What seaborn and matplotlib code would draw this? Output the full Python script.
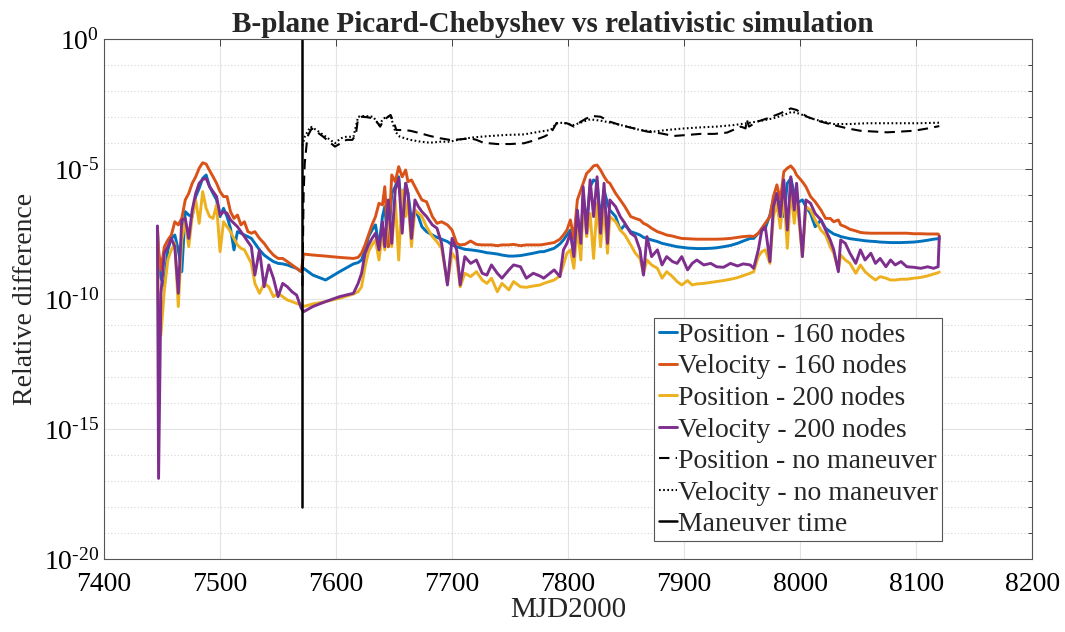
import numpy as np
import pandas as pd
import seaborn as sns
import matplotlib
matplotlib.use('Agg')
import matplotlib.pyplot as plt
from matplotlib.ticker import FixedLocator, NullFormatter

# --- data -----------------------------------------------------------------
# sample days (MJD2000), shared by the four Picard-Chebyshev runs
days = [
    7446, 7447, 7449, 7452, 7455, 7458, 7461, 7464, 7467, 7470,
    7473, 7476, 7479, 7482, 7485, 7488, 7491, 7494, 7497, 7500,
    7503, 7506, 7509, 7512, 7515, 7518, 7521, 7524, 7527, 7530,
    7534, 7538, 7542, 7546, 7550, 7554, 7558, 7562, 7566, 7570,
    # after the maneuver
    7572, 7580, 7591, 7603, 7615, 7619, 7622, 7625, 7628, 7631,
    7634, 7637, 7640, 7642, 7645, 7648, 7651, 7654, 7657, 7660,
    7662, 7665, 7668, 7671, 7674, 7678, 7683, 7687, 7691, 7696,
    7700, 7704, 7707, 7711, 7716, 7721, 7726, 7730, 7734, 7739,
    7743, 7749, 7753, 7759, 7764, 7770, 7776,
    7779, 7788, 7793, 7796, 7799, 7802, 7805, 7808, 7811, 7813,
    7816, 7819, 7822, 7825, 7828, 7831, 7834, 7836, 7841, 7845,
    7849, 7854, 7858, 7862, 7865, 7868, 7872, 7877, 7881, 7885,
    7890, 7894, 7898, 7903, 7907, 7911, 7917, 7923, 7928, 7934,
    7940, 7946, 7951, 7957,
    7960, 7964, 7967, 7970, 7974, 7977, 7980, 7983, 7986, 7989,
    7992, 7995, 7997, 8002, 8005, 8009, 8013, 8018, 8022, 8026,
    8029, 8033, 8035, 8039, 8043, 8048, 8052, 8056, 8061, 8065,
    8069, 8074, 8078, 8082, 8087, 8092, 8098, 8104, 8110, 8115,
    8119, 8120,
]

# log10 of relative difference
pos160_log = [
    -7.22, -8.50, -9.20, -9.50, -8.11, -7.67, -7.54, -8.11, -8.95, -6.64,
    -6.77, -6.83, -6.06, -5.74, -5.36, -5.23, -5.68, -5.94, -6.19, -6.83,
    -6.51, -6.83, -7.28, -8.11, -7.41, -7.47, -7.54, -7.60, -7.67, -7.86,
    -8.11, -8.31, -8.44, -8.56, -8.63, -8.65, -8.69, -8.76, -8.82, -8.95,
    -8.82, -9.08, -9.27, -8.95, -8.65, -8.60, -8.50, -8.11, -7.60, -7.35,
    -7.15, -7.99, -6.83, -6.45, -7.99, -5.94, -5.68, -5.30, -6.83, -5.55,
    -5.94, -6.96, -6.58, -6.83, -7.22, -7.41, -7.54, -7.63, -7.70, -7.79,
    -7.92, -7.99, -8.03, -8.09, -8.11, -8.14, -8.18, -8.22, -8.24, -8.27,
    -8.31, -8.35, -8.35, -8.33, -8.29, -8.24, -8.18,
    -8.18, -8.05, -7.88, -7.73, -7.54, -7.35, -8.24, -6.96, -8.11, -6.06,
    -7.09, -5.68, -5.42, -5.49, -6.96, -5.81, -6.32, -6.58, -6.83, -7.35,
    -7.15, -7.41, -7.47, -7.54, -7.63, -7.67, -7.73, -7.79, -7.86, -7.90,
    -7.95, -7.99, -8.01, -8.04, -8.05, -8.06, -8.06, -8.05, -8.03, -7.99,
    -7.94, -7.86, -7.77, -7.67,
    -7.67, -7.47, -7.37, -7.28, -6.77, -6.19, -6.58, -5.94, -6.83, -5.55,
    -5.36, -5.94, -6.32, -6.19, -6.45, -6.71, -7.22, -6.96, -7.28, -7.41,
    -7.50, -7.56, -7.60, -7.64, -7.68, -7.71, -7.73, -7.76, -7.78, -7.79,
    -7.81, -7.82, -7.83, -7.83, -7.83, -7.82, -7.81, -7.78, -7.74, -7.70,
    -7.68, -7.68,
]
vel160_log = [
    -7.22, -8.11, -8.88, -7.99, -7.73, -7.54, -7.03, -7.15, -6.90, -6.19,
    -5.94, -5.55, -5.30, -4.97, -4.76, -4.81, -5.06, -5.30, -5.55, -5.87,
    -6.06, -6.06, -6.64, -6.90, -6.77, -7.15, -7.03, -7.41, -7.47, -7.41,
    -7.67, -7.86, -8.11, -8.31, -8.44, -8.44, -8.56, -8.69, -8.82, -8.95,
    -8.27, -8.31, -8.35, -8.40, -8.44, -8.40, -8.24, -7.92, -7.54, -7.15,
    -6.83, -6.32, -6.38, -5.68, -7.99, -5.23, -5.49, -4.91, -5.30, -5.04,
    -5.49, -5.42, -5.68, -5.94, -6.19, -6.26, -6.83, -7.09, -7.03, -7.15,
    -7.35, -7.86, -7.92, -7.90, -7.77, -7.90, -7.92, -7.92, -7.92, -7.95,
    -7.92, -7.92, -7.90, -7.95, -7.92, -7.92, -7.92,
    -7.90, -7.83, -7.70, -7.54, -7.35, -6.96, -7.67, -6.19, -5.81, -5.55,
    -5.17, -5.04, -4.88, -4.85, -5.04, -5.29, -5.49, -5.55, -5.94, -6.19,
    -6.45, -6.83, -6.90, -6.96, -7.09, -7.15, -7.28, -7.41, -7.47, -7.54,
    -7.58, -7.63, -7.67, -7.68, -7.69, -7.70, -7.70, -7.70, -7.70, -7.69,
    -7.67, -7.63, -7.60, -7.58,
    -7.60, -7.47, -7.28, -7.09, -6.83, -6.06, -5.61, -6.19, -5.10, -4.97,
    -4.88, -5.04, -5.23, -5.49, -5.68, -6.06, -6.26, -6.58, -6.90, -6.90,
    -7.03, -6.96, -7.15, -7.22, -7.32, -7.38, -7.44, -7.46, -7.47, -7.47,
    -7.47, -7.47, -7.47, -7.47, -7.47, -7.47, -7.49, -7.49, -7.50, -7.50,
    -7.50, -7.58,
]
pos200_log = [
    -7.50, -11.00, -11.40, -9.65, -8.50, -8.11, -7.86, -10.29, -7.73, -7.03,
    -7.99, -6.83, -6.19, -7.09, -5.87, -6.51, -6.83, -6.90, -6.38, -8.18,
    -7.03, -7.22, -7.41, -7.67, -7.92, -8.05, -8.11, -8.37, -8.63, -9.40,
    -9.78, -9.40, -9.53, -9.91, -9.78, -9.91, -10.04, -10.10, -10.17, -10.23,
    -10.29, -10.19, -10.10, -9.97, -9.81, -9.72, -9.53, -8.76, -8.18, -7.92,
    -7.73, -8.50, -7.47, -8.11, -6.83, -7.99, -6.19, -8.50, -5.81, -6.83,
    -6.19, -7.99, -6.58, -6.70, -6.83, -7.22, -7.60, -7.80, -8.05, -9.40,
    -8.24, -8.50, -9.53, -9.01, -9.14, -8.95, -9.27, -9.40, -9.20, -9.72,
    -9.40, -9.65, -9.33, -9.53, -9.55, -9.50, -9.46,
    -9.40, -9.27, -9.11, -8.69, -8.24, -8.11, -8.82, -7.22, -8.50, -6.19,
    -7.60, -6.71, -8.44, -6.32, -7.99, -6.45, -8.24, -6.83, -7.03, -7.35,
    -7.54, -7.92, -8.24, -8.44, -9.01, -8.50, -8.69, -8.82, -9.20, -8.95,
    -9.14, -9.33, -9.46, -9.29, -9.46, -9.42, -9.40, -9.36, -9.33, -9.29,
    -9.24, -9.18, -9.10, -9.01,
    -8.95, -8.37, -8.18, -8.11, -8.63, -6.83, -6.32, -7.28, -5.94, -8.05,
    -5.81, -7.09, -6.06, -8.37, -6.45, -6.58, -6.96, -7.35, -7.54, -7.99,
    -8.24, -8.88, -8.31, -8.50, -8.63, -9.01, -8.69, -8.95, -9.14, -9.27,
    -9.14, -9.20, -9.27, -9.27, -9.24, -9.24, -9.20, -9.17, -9.11, -9.04,
    -8.99, -8.96,
]
vel200_log = [
    -7.19, -16.90, -9.80, -8.24, -7.99, -7.67, -7.99, -9.78, -6.96, -6.90,
    -7.67, -6.58, -5.94, -5.55, -5.40, -5.36, -5.68, -5.87, -6.06, -6.77,
    -6.64, -6.70, -6.96, -7.09, -7.22, -7.41, -7.60, -7.80, -7.99, -9.08,
    -8.11, -9.53, -8.69, -9.20, -9.91, -9.40, -9.53, -9.72, -9.85, -10.36,
    -10.49, -10.29, -10.10, -9.91, -9.78, -9.40, -9.01, -8.24, -7.92, -7.67,
    -7.47, -8.11, -7.03, -7.99, -6.19, -7.86, -5.81, -5.36, -7.47, -5.55,
    -5.94, -7.67, -6.19, -6.45, -6.64, -6.83, -7.15, -7.28, -7.86, -9.46,
    -7.67, -8.11, -9.46, -8.37, -8.63, -8.50, -9.01, -9.08, -8.69, -9.01,
    -9.20, -8.88, -8.69, -8.76, -9.20, -9.01, -9.12,
    -9.20, -8.88, -9.14, -8.11, -7.86, -7.47, -8.37, -6.58, -7.86, -5.68,
    -7.47, -5.42, -6.83, -5.30, -7.47, -5.55, -7.86, -6.19, -6.45, -6.83,
    -7.09, -7.47, -7.60, -8.11, -9.08, -7.60, -8.37, -8.11, -8.69, -8.37,
    -8.56, -8.63, -8.37, -8.88, -8.63, -8.50, -8.69, -8.63, -8.76, -8.78,
    -8.63, -8.73, -8.65, -8.69,
    -8.82, -8.11, -7.35, -7.22, -8.56, -6.45, -5.94, -6.83, -5.42, -7.35,
    -5.30, -6.58, -5.55, -8.37, -6.19, -6.32, -6.71, -6.96, -7.35, -7.73,
    -8.11, -8.95, -7.73, -7.86, -8.24, -8.63, -8.11, -8.50, -8.24, -8.63,
    -8.44, -8.76, -8.50, -8.69, -8.56, -8.76, -8.78, -8.82, -8.76, -8.82,
    -8.76, -7.60,
]

# runs without the maneuver
nomnv_pos_days = [
    7571, 7572, 7573, 7575, 7576, 7579, 7583, 7589, 7594, 7599,
    7604, 7609, 7614, 7617, 7619, 7622, 7627, 7632, 7635, 7638,
    7641, 7647, 7650, 7652, 7658, 7664, 7673, 7681, 7690, 7698,
    7707, 7716, 7721, 7727, 7739, 7750, 7762, 7770, 7779, 7785,
    7790, 7799, 7805, 7811, 7816, 7821, 7828, 7836, 7845, 7857,
    7868, 7880, 7891, 7903, 7914, 7926, 7937, 7949, 7953, 7954,
    7956, 7963, 7972, 7983, 7992, 7997, 8006, 8018, 8029, 8041,
    8052, 8064, 8075, 8087, 8098, 8110, 8120,
]
nomnv_pos_log = [
    -9.50, -6.00, -4.78, -3.88, -3.69, -3.44, -3.56, -3.76, -3.95, -4.14,
    -4.01, -3.88, -3.88, -3.69, -3.05, -2.99, -3.01, -3.05, -3.18, -3.37,
    -3.12, -2.92, -3.24, -3.50, -3.50, -3.53, -3.63, -3.73, -3.82, -3.88,
    -3.86, -3.82, -3.88, -3.99, -4.04, -4.04, -4.01, -3.91, -3.76, -3.63,
    -3.24, -3.24, -3.37, -3.18, -3.05, -2.96, -2.99, -3.18, -3.31, -3.44,
    -3.56, -3.63, -3.73, -3.69, -3.65, -3.65, -3.60, -3.37, -3.44, -3.09,
    -3.37, -3.18, -3.05, -2.86, -2.67, -2.73, -2.99, -3.18, -3.31, -3.44,
    -3.53, -3.56, -3.59, -3.56, -3.53, -3.44, -3.35,
]
nomnv_vel_days = [
    7571, 7573, 7578, 7583, 7589, 7595, 7599, 7604, 7609, 7615,
    7619, 7624, 7632, 7637, 7641, 7647, 7651, 7655, 7664, 7673,
    7681, 7690, 7698, 7707, 7719, 7733, 7747, 7762, 7776, 7785,
    7790, 7796, 7805, 7813, 7819, 7828, 7839, 7851, 7862, 7874,
    7885, 7900, 7914, 7928, 7943, 7957, 7966, 7977, 7986, 7993,
    8000, 8009, 8020, 8029, 8043, 8058, 8072, 8087, 8101, 8120,
]
nomnv_vel_log = [
    -4.10, -3.76, -3.37, -3.50, -3.69, -3.88, -4.01, -3.82, -3.76, -3.76,
    -2.99, -2.96, -2.99, -3.31, -3.05, -2.96, -3.56, -3.76, -3.88, -3.95,
    -3.99, -3.95, -3.95, -3.86, -3.78, -3.73, -3.69, -3.67, -3.56, -3.50,
    -3.24, -3.22, -3.31, -3.18, -3.09, -3.14, -3.24, -3.37, -3.50, -3.56,
    -3.50, -3.44, -3.40, -3.37, -3.31, -3.22, -3.15, -3.05, -2.92, -2.80,
    -2.88, -3.05, -3.18, -3.27, -3.27, -3.24, -3.24, -3.24, -3.24, -3.22,
]

maneuver_day = 7571
maneuver_span_log = [-18, 0]

series_labels = ['Position - 160 nodes', 'Velocity - 160 nodes',
                 'Position - 200 nodes', 'Velocity - 200 nodes']
series_colors = ['#0072BD', '#D95319', '#EDB120', '#7E2F8E']
ytick_exps = [-20, -15, -10, -5, 0]

# --- figure -----------------------------------------------------------------
sns.set_style('white')
plt.rcParams['font.family'] = ['Liberation Serif', 'DejaVu Serif']
plt.rcParams['mathtext.fontset'] = 'custom'
plt.rcParams['mathtext.rm'] = 'Liberation Serif'
plt.rcParams['mathtext.it'] = 'Liberation Serif:italic'

df = pd.DataFrame({
    'day': days,
    'pos160': np.power(10.0, pos160_log),
    'vel160': np.power(10.0, vel160_log),
    'pos200': np.power(10.0, pos200_log),
    'vel200': np.power(10.0, vel200_log),
})

fig = plt.figure(figsize=(10.65, 6.32), dpi=100)
ax = fig.add_axes([0.0977, 0.1155, 0.8714, 0.8228])
ax.set_yscale('log')

for col, color, label in zip(['pos160', 'vel160', 'pos200', 'vel200'],
                             series_colors, series_labels):
    sns.lineplot(data=df, x='day', y=col, color=color, lw=2.1, label=label,
                 ax=ax, sort=False, estimator=None)

sns.lineplot(x=nomnv_pos_days, y=np.power(10.0, nomnv_pos_log), color='black',
             lw=1.5, label='Position - no maneuver', ax=ax, sort=False, estimator=None)
ax.lines[-1].set_dashes([5, 3])
sns.lineplot(x=nomnv_vel_days, y=np.power(10.0, nomnv_vel_log), color='black',
             lw=1.5, label='Velocity - no maneuver', ax=ax, sort=False, estimator=None)
ax.lines[-1].set_dashes([0.8, 1.2])
sns.lineplot(x=[maneuver_day, maneuver_day], y=np.power(10.0, maneuver_span_log),
             color='black', lw=1.8, label='Maneuver time', ax=ax, sort=False, estimator=None)

# axes styling, MATLAB look
ax.set_xlim(7400, 8200)
ax.set_ylim(1e-20, 1e0)
ax.set_xticks(np.arange(7400, 8201, 100))
ax.yaxis.set_major_locator(FixedLocator([10.0 ** e for e in ytick_exps]))
ax.set_yticklabels([r'$\mathregular{10^{%s}}$' % str(e).replace('-', '\u2010')
                    for e in ytick_exps])
ax.yaxis.set_minor_locator(FixedLocator([10.0 ** k for k in range(-20, 1)]))
ax.yaxis.set_minor_formatter(NullFormatter())

ax.grid(which='major', color='#e3e3e3', lw=0.8, ls='-')
ax.grid(which='minor', axis='y', color='#d6d6d6', lw=0.8, ls=(0, (1, 2)))
ax.set_axisbelow(True)
ax.tick_params(which='both', direction='in', labelsize=20, colors='#262626',
               labelcolor='black', top=True, right=True)
ax.tick_params(which='major', length=5, width=0.6)
ax.tick_params(which='minor', length=3, width=0.6)
ax.tick_params(axis='x', pad=9)
for sp in ax.spines.values():
    sp.set_color('#555555')
    sp.set_linewidth(0.8)

ax.set_title('B-plane Picard-Chebyshev vs relativistic simulation',
             fontsize=21, fontweight='bold', pad=5, x=0.484)
ax.set_xlabel('MJD2000', fontsize=21, labelpad=0)
ax.set_ylabel('Relative difference', fontsize=20, labelpad=4)

leg = ax.legend(loc='upper left', bbox_to_anchor=(0.593, 0.463), fontsize=20,
                frameon=True, fancybox=False, framealpha=1, edgecolor='#555555',
                handlelength=0.65, handletextpad=0.05, labelspacing=0.22,
                borderpad=0.15, borderaxespad=0)
leg.get_frame().set_linewidth(0.8)

fig.savefig('out.png', dpi=100, facecolor='white')
